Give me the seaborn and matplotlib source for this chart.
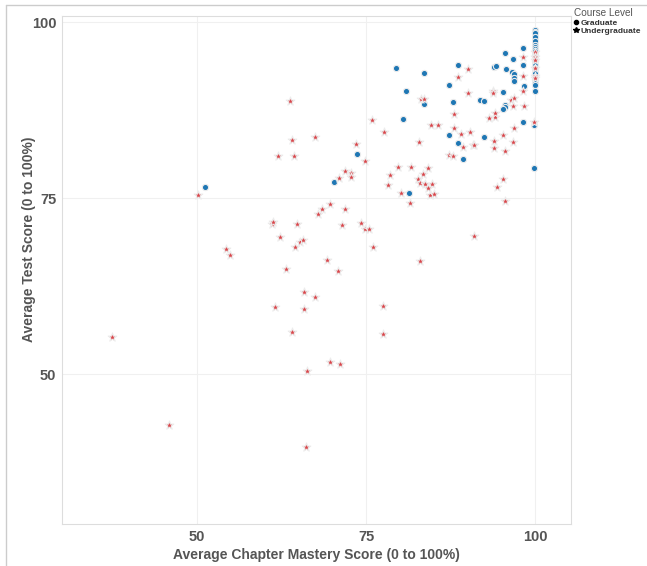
import pandas as pd
import matplotlib.pyplot as plt
import seaborn as sns
from matplotlib.lines import Line2D

# Graduate points (chapter mastery, test score)
grad_x = [51.2, 70.2, 73.6, 80.9, 83.5, 80.5, 81.3, 79.4, 83.5, 88.6,
          87.2, 87.8, 87.2, 88.6, 89.3, 91.9, 92.4, 92.5, 93.9, 94.2,
          95.6, 95.7, 95.3, 95.6, 95.5, 95.3, 96.7, 96.6, 96.8, 96.8,
          96.8, 98.2, 98.2, 98.4, 98.2, 99.9, 99.9,
          100, 100, 100, 100, 100, 100, 100, 100, 100, 100, 100,
          100, 100, 100, 100, 100, 100, 100, 100, 100, 100, 100]
grad_y = [76.6, 77.3, 81.3, 90.2, 88.4, 86.2, 75.7, 93.4, 92.8, 93.9,
          91.1, 88.7, 83.9, 82.8, 80.6, 88.9, 88.8, 83.6, 93.6, 93.8,
          95.6, 93.3, 90.0, 88.2, 87.9, 87.6, 94.8, 92.9, 92.6, 92.0,
          91.6, 96.3, 93.9, 90.9, 85.8, 85.4, 79.2,
          98.9, 98.6, 98.4, 97.9, 97.3, 96.7, 96.5, 96.1, 95.9, 95.3, 94.6,
          94.4, 93.9, 93.5, 93.3, 92.8, 92.2, 91.9, 91.7, 91.4, 91.1, 90.2]

# Undergraduate points
ugrad_x = [37.4, 45.9, 50.1, 54.2, 54.8, 61.0, 61.2, 61.5, 61.9, 62.3,
           63.2, 63.8, 64.0, 64.3, 64.1, 64.4, 64.8, 65.2, 65.7, 65.8,
           65.8, 66.1, 66.3, 67.5, 67.5, 67.9, 68.4, 69.2, 69.7, 69.7,
           70.9, 71.0, 71.2, 71.4, 71.8, 71.9, 72.7, 72.8, 73.5, 74.3,
           74.8, 74.9, 75.4, 75.9, 76.0, 77.5, 77.5, 77.6, 78.2, 78.5,
           79.7, 80.1, 81.5, 81.7, 82.6, 82.9, 83.7, 84.7, 82.8, 83.0,
           83.1, 83.6, 83.4, 84.1, 84.2, 84.5, 85.1, 84.6, 85.6, 87.3,
           87.8, 88.0, 88.0, 88.6, 89.1, 89.3, 90.0, 90.0, 90.3, 90.8,
           91.0, 91.0, 93.2, 94.1, 94.1, 93.7, 93.7, 93.9, 93.9, 94.3,
           95.3, 95.3, 95.5, 95.6, 96.5, 96.7, 96.7, 96.8, 96.9, 98.2,
           98.2, 98.2, 98.4, 99.9,
           100, 100, 100, 100, 100, 100]
ugrad_y = [55.2, 42.8, 75.4, 67.8, 66.9, 71.3, 71.6, 59.5, 80.9, 69.4,
           64.9, 88.8, 83.2, 81.0, 56.0, 68.0, 71.3, 68.8, 69.1, 61.6,
           59.3, 39.6, 50.4, 83.7, 61.0, 72.8, 73.5, 66.2, 74.2, 51.7,
           64.6, 77.9, 51.4, 71.2, 73.4, 78.8, 78.6, 78.0, 82.7, 71.5,
           80.3, 70.6, 70.6, 86.1, 68.0, 59.7, 55.7, 84.4, 76.9, 78.3,
           79.4, 75.7, 74.3, 79.4, 77.7, 77.1, 77.0, 77.0, 82.9, 66.0,
           89.1, 89.0, 78.4, 79.3, 76.4, 75.4, 75.5, 85.4, 85.4, 81.1,
           81.0, 86.9, 85.0, 92.2, 84.1, 82.2, 93.3, 89.9, 84.4, 82.5,
           82.5, 69.6, 86.4, 86.5, 87.1, 90.2, 89.9, 83.1, 82.1, 76.5,
           83.9, 77.7, 74.6, 81.7, 88.9, 88.1, 82.9, 84.9, 89.2, 95.1,
           92.4, 90.2, 88.1, 85.8,
           95.8, 95.1, 94.6, 93.4, 92.4, 92.0]

levels = ['Graduate', 'Undergraduate']
colors = {'Graduate': '#1f77b4', 'Undergraduate': '#d9464b'}
markers = {'Graduate': 'o', 'Undergraduate': '*'}

df = pd.concat([
    pd.DataFrame({'mastery': grad_x, 'test': grad_y, 'level': 'Graduate'}),
    pd.DataFrame({'mastery': ugrad_x, 'test': ugrad_y, 'level': 'Undergraduate'}),
])

sns.set_style('white')
plt.rcParams['font.family'] = ['Liberation Sans', 'DejaVu Sans']

fig = plt.figure(figsize=(6.47, 5.66), dpi=100)
ax = fig.add_axes([0.0958, 0.0742, 0.7867, 0.8975])

for lv in levels:
    sub = df[df['level'] == lv]
    sns.scatterplot(data=sub, x='mastery', y='test', ax=ax,
                    color=colors[lv], marker=markers[lv],
                    s=20 if lv == 'Graduate' else 42,
                    edgecolor='#ececec', linewidth=0.8, legend=False, zorder=3)

ax.set_xlim(30.0, 105.3)
ax.set_ylim(28.7, 100.85)
ax.set_xticks([50, 75, 100])
ax.set_yticks([50, 75, 100])
ax.grid(True, color='#f0f0f0', linewidth=0.8)
for sp in ax.spines.values():
    sp.set_color('#dddddd')
    sp.set_linewidth(0.8)
ax.tick_params(length=0, labelsize=10.5, labelcolor='#555555', pad=4)
for lab in ax.get_xticklabels() + ax.get_yticklabels():
    lab.set_fontweight('bold')

ax.set_xlabel('Average Chapter Mastery Score (0 to 100%)', fontsize=10,
              fontweight='bold', color='#555555', labelpad=3)
ax.set_ylabel('Average Test Score (0 to 100%)', fontsize=10,
              fontweight='bold', color='#555555')
ax.yaxis.set_label_coords(-0.052, 0.56)

# legend on the right
handles = [Line2D([], [], linestyle='', marker='o', color='black', markersize=3),
           Line2D([], [], linestyle='', marker='*', color='black', markersize=4)]
leg = fig.legend(handles, levels, title='Course Level', loc='upper left',
                 bbox_to_anchor=(0.882, 0.992), frameon=False,
                 prop={'weight': 'bold', 'size': 6}, title_fontsize=7.2,
                 handletextpad=0.2, handlelength=0.6, labelspacing=0.1,
                 borderpad=0.2, borderaxespad=0.2)
leg._legend_box.align = 'left'
leg.get_title().set_color('#555555')
for t in leg.get_texts():
    t.set_color('#333333')

# outer frame lines (top and left)
fig.add_artist(Line2D([0.009, 1.0], [0.991, 0.991], color='#cccccc', linewidth=1))
fig.add_artist(Line2D([0.009, 0.009], [0.0, 0.991], color='#cccccc', linewidth=1))

fig.savefig('out.png', dpi=100)
